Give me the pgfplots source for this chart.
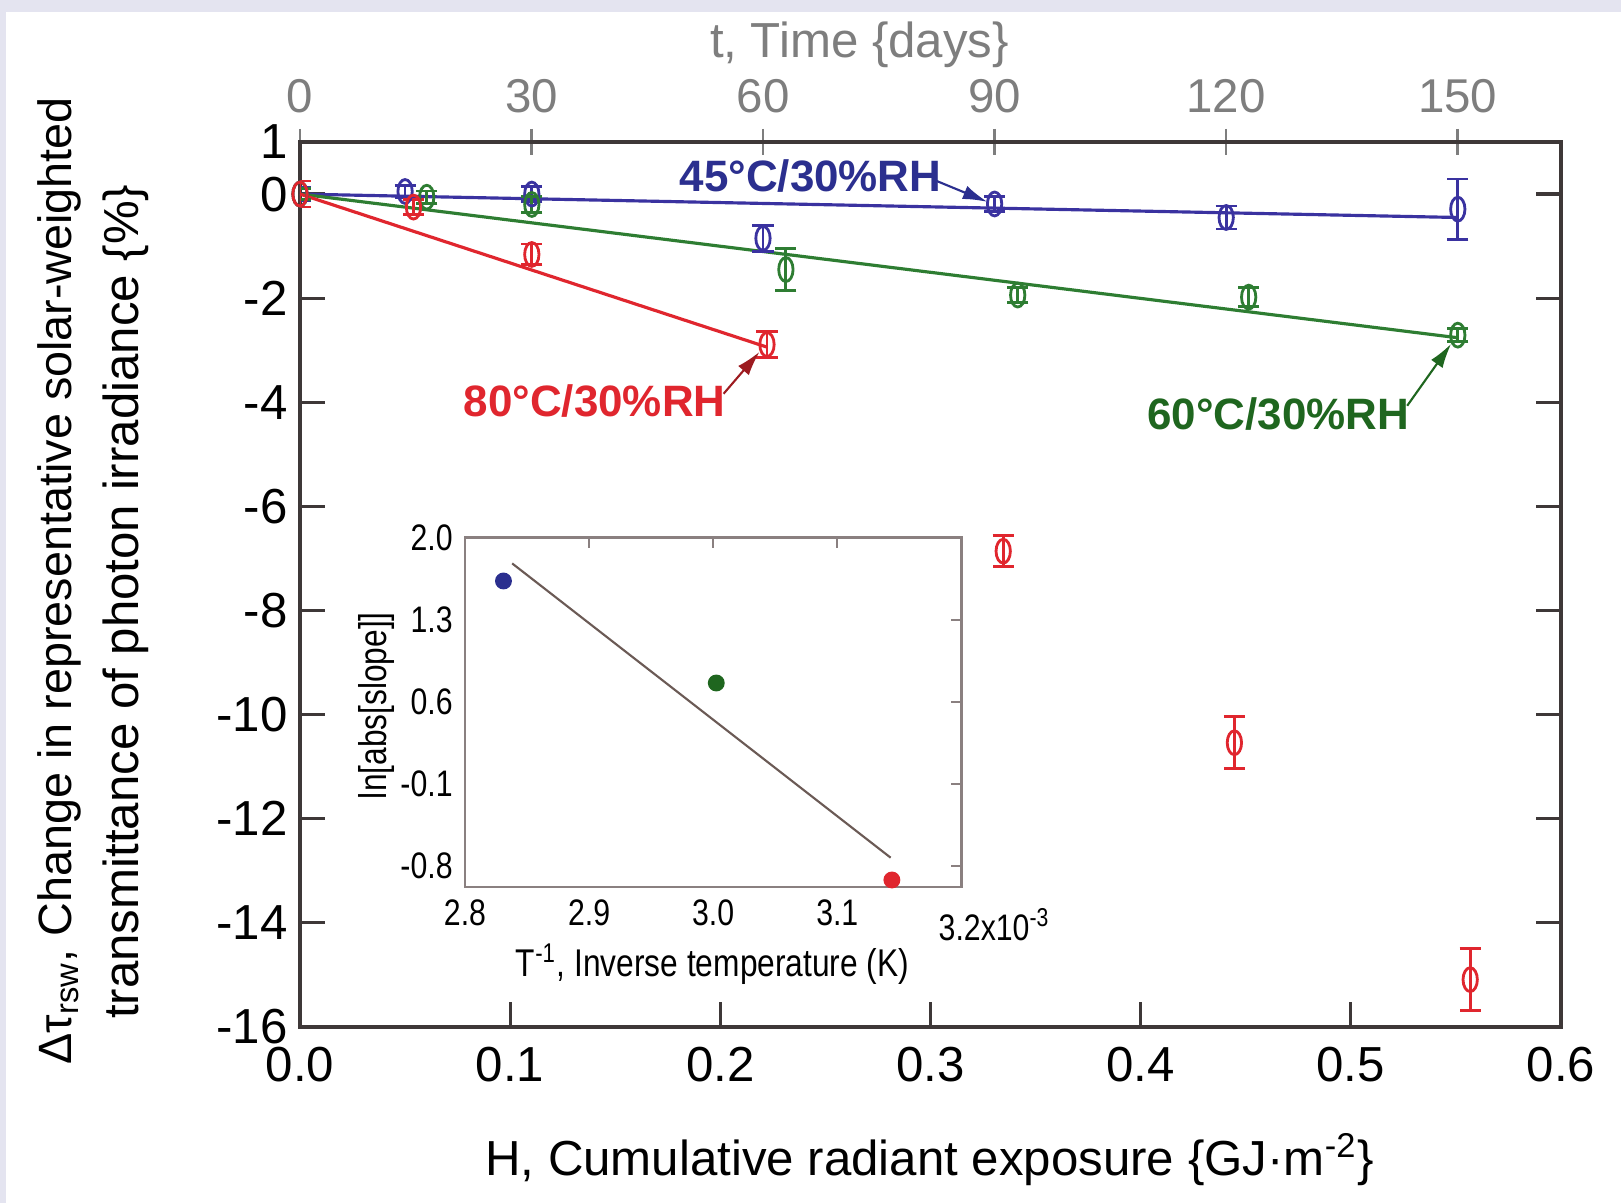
\documentclass[border=0pt]{standalone}
\usepackage{fontspec}
\setmainfont{Liberation Sans}
\newfontfamily\narrowfont[FakeStretch=0.82]{Liberation Sans}
\usepackage{pgfplots}
\pgfplotsset{compat=1.18}
\usetikzlibrary{arrows.meta}

\definecolor{frame}{HTML}{3E3838}
\definecolor{topgrey}{HTML}{7E7E7E}
\definecolor{band}{HTML}{E4E4F0}
\definecolor{c45}{HTML}{3A32A0}
\definecolor{t45}{HTML}{2B2F8F}
\definecolor{c60}{HTML}{2E7D32}
\definecolor{t60}{HTML}{1F661F}
\definecolor{c80}{HTML}{E0262E}
\definecolor{insetframe}{HTML}{8A8080}
\definecolor{insetline}{HTML}{6B5A55}

% H {GJ m^-2}, change {%}, error
\pgfplotstableread{
x y e
0.0000 0.00 0.12
0.0500 0.05 0.12
0.1103 0.00 0.15
0.2203 -0.85 0.25
0.3305 -0.19 0.15
0.4407 -0.45 0.22
0.5509 -0.29 0.58
}\datafortyfive
\pgfplotstableread{
x y e
0.0000 0.00 0.10
0.0603 -0.06 0.12
0.1103 -0.20 0.15
0.2312 -1.45 0.40
0.3415 -1.94 0.15
0.4514 -1.98 0.18
0.5509 -2.71 0.12
}\datasixty
\pgfplotstableread{
x y e
0.0000 0.00 0.25
0.0540 -0.25 0.15
0.1103 -1.16 0.20
0.2222 -2.89 0.25
0.3346 -6.86 0.30
0.4446 -10.54 0.50
0.5568 -15.09 0.60
}\dataeighty

\pgfplotsset{
  series/.style={
    mark=o, mark size=3.4pt, line width=0.9pt,
    mark options={xscale=0.6, solid, line width=0.8pt},
    error bars/.cd, y dir=both, y explicit,
    error bar style={line width=0.8pt},
    error mark options={rotate=90, mark size=3pt, line width=0.8pt},
  },
}

\begin{document}
\begin{tikzpicture}
\useasboundingbox (0,0) rectangle (16.21cm,-12.03cm);
\fill[white] (0,0) rectangle (16.21cm,-12.03cm);
\fill[band] (0,0) rectangle (16.21cm,-0.12cm);
\fill[band] (0,0) rectangle (0.06cm,-12.03cm);

% top axis: time in days
\begin{axis}[
  at={(3.00cm,-10.27cm)}, anchor=south west,
  width=12.61cm, height=8.85cm, scale only axis,
  xmin=0, xmax=163.4, ymin=-16, ymax=1,
  axis x line*=top, hide y axis,
  axis line style={draw=topgrey},
  xtick={0,30,60,90,120,150},
  xticklabels={0,30,60,90,120,150},
  tick align=center, major tick length=0.26cm,
  tick style={draw=topgrey, line width=0.7pt},
  xticklabel style={font=\fontsize{13.5}{13.5}\selectfont, text=topgrey, yshift=0.04cm},
]
\end{axis}

% main axis
\begin{axis}[
  at={(3.00cm,-10.27cm)}, anchor=south west,
  width=12.61cm, height=8.85cm, scale only axis,
  xmin=0, xmax=0.6, ymin=-16, ymax=1,
  axis line style={draw=frame, line width=1pt},
  xtick={0,0.1,0.2,0.3,0.4,0.5,0.6},
  xticklabels={0.0,0.1,0.2,0.3,0.4,0.5,0.6},
  ytick={1,0,-2,-4,-6,-8,-10,-12,-14,-16},
  yticklabels={1,0,-2,-4,-6,-8,-10,-12,-14,-16},
  xtick pos=left,
  tick align=inside, major tick length=0.25cm,
  tick style={draw=frame, line width=0.9pt},
  ticklabel style={font=\fontsize{14}{14}\selectfont},
  xticklabel style={yshift=-0.08cm},
]
\addplot[c45, line width=0.9pt] coordinates {(0,0) (0.5509,-0.45)};
\addplot[c60, line width=0.9pt] coordinates {(0,0) (0.5509,-2.76)};
\addplot[c80, line width=0.9pt] coordinates {(0,0) (0.2222,-2.94)};
\addplot[c45, only marks, series] table[x=x, y=y, y error=e] {\datafortyfive};
\addplot[c60, only marks, series] table[x=x, y=y, y error=e] {\datasixty};
\addplot[c80, only marks, series] table[x=x, y=y, y error=e] {\dataeighty};
\end{axis}

% inset: Arrhenius plot
\begin{axis}[
  at={(4.65cm,-8.87cm)}, anchor=south west,
  width=4.964cm, height=3.494cm, scale only axis,
  xmin=2.8, xmax=3.2, ymin=-0.98, ymax=2.0,
  axis line style={draw=insetframe, line width=0.7pt},
  xtick={2.8,2.9,3.0,3.1,3.2},
  xticklabels={2.8,2.9,3.0,3.1,{}},
  ytick={-0.8,-0.1,0.6,1.3,2.0},
  yticklabels={-0.8,-0.1,0.6,1.3,2.0},
  xtick pos=right, xticklabel pos=left,
  ytick pos=right, yticklabel pos=left,
  tick align=inside, major tick length=0.1cm,
  tick style={draw=insetframe, line width=0.6pt},
  ticklabel style={font=\narrowfont\fontsize{10.5}{10.5}\selectfont},
]
\addplot[insetline, line width=0.6pt] coordinates {(2.838,1.78) (3.143,-0.73)};
\addplot[only marks, mark=*, mark size=2.2pt, color=t45] coordinates {(2.831,1.63)};
\addplot[only marks, mark=*, mark size=2.2pt, color=t60] coordinates {(3.0025,0.76)};
\addplot[only marks, mark=*, mark size=2.2pt, color=c80] coordinates {(3.144,-0.92)};
\end{axis}

\begin{scope}[x=0.01cm, y=-0.01cm]
\node[rotate=90, font=\fontsize{13.3}{13.3}\selectfont] at (59,581)
  {Δτ\textsubscript{rsw}, Change in representative solar-weighted};
\node[rotate=90, font=\fontsize{14}{14}\selectfont] at (126,602)
  {transmittance of photon irradiance \{\%\}};
\node[font=\fontsize{14}{14}\selectfont] at (930,1160)
  {H, Cumulative radiant exposure \{GJ·m\textsuperscript{-2}\}};
\node[font=\fontsize{14}{14}\selectfont, text=topgrey] at (860,45)
  {t, Time \{days\}};

\node[font=\narrowfont\fontsize{11}{11}\selectfont] at (713,965)
  {T\textsuperscript{-1}, Inverse temperature (K)};
\node[rotate=90, font=\narrowfont\fontsize{11}{11}\selectfont] at (377,706)
  {ln[abs[slope]]};
\node[font=\narrowfont\fontsize{10.5}{10.5}\selectfont] at (995,925)
  {3.2x10\textsuperscript{-3}};

\node[font=\bfseries\fontsize{12.5}{12.5}\selectfont, text=t45] at (811,176) {45°C/30\%RH};
\draw[t45, line width=0.6pt, -{Latex[length=7pt,width=4pt]}] (937,181) -- (988,202);
\node[font=\bfseries\fontsize{12.5}{12.5}\selectfont, text=c80] at (595,401) {80°C/30\%RH};
\draw[c80!70!black, line width=0.6pt, -{Latex[length=7pt,width=4pt]}] (724,394) -- (760,352);
\node[font=\bfseries\fontsize{12.5}{12.5}\selectfont, text=t60] at (1279,414) {60°C/30\%RH};
\draw[t60, line width=0.6pt, -{Latex[length=7pt,width=4pt]}] (1408,406) -- (1452,344);
\end{scope}
\end{tikzpicture}
\end{document}
